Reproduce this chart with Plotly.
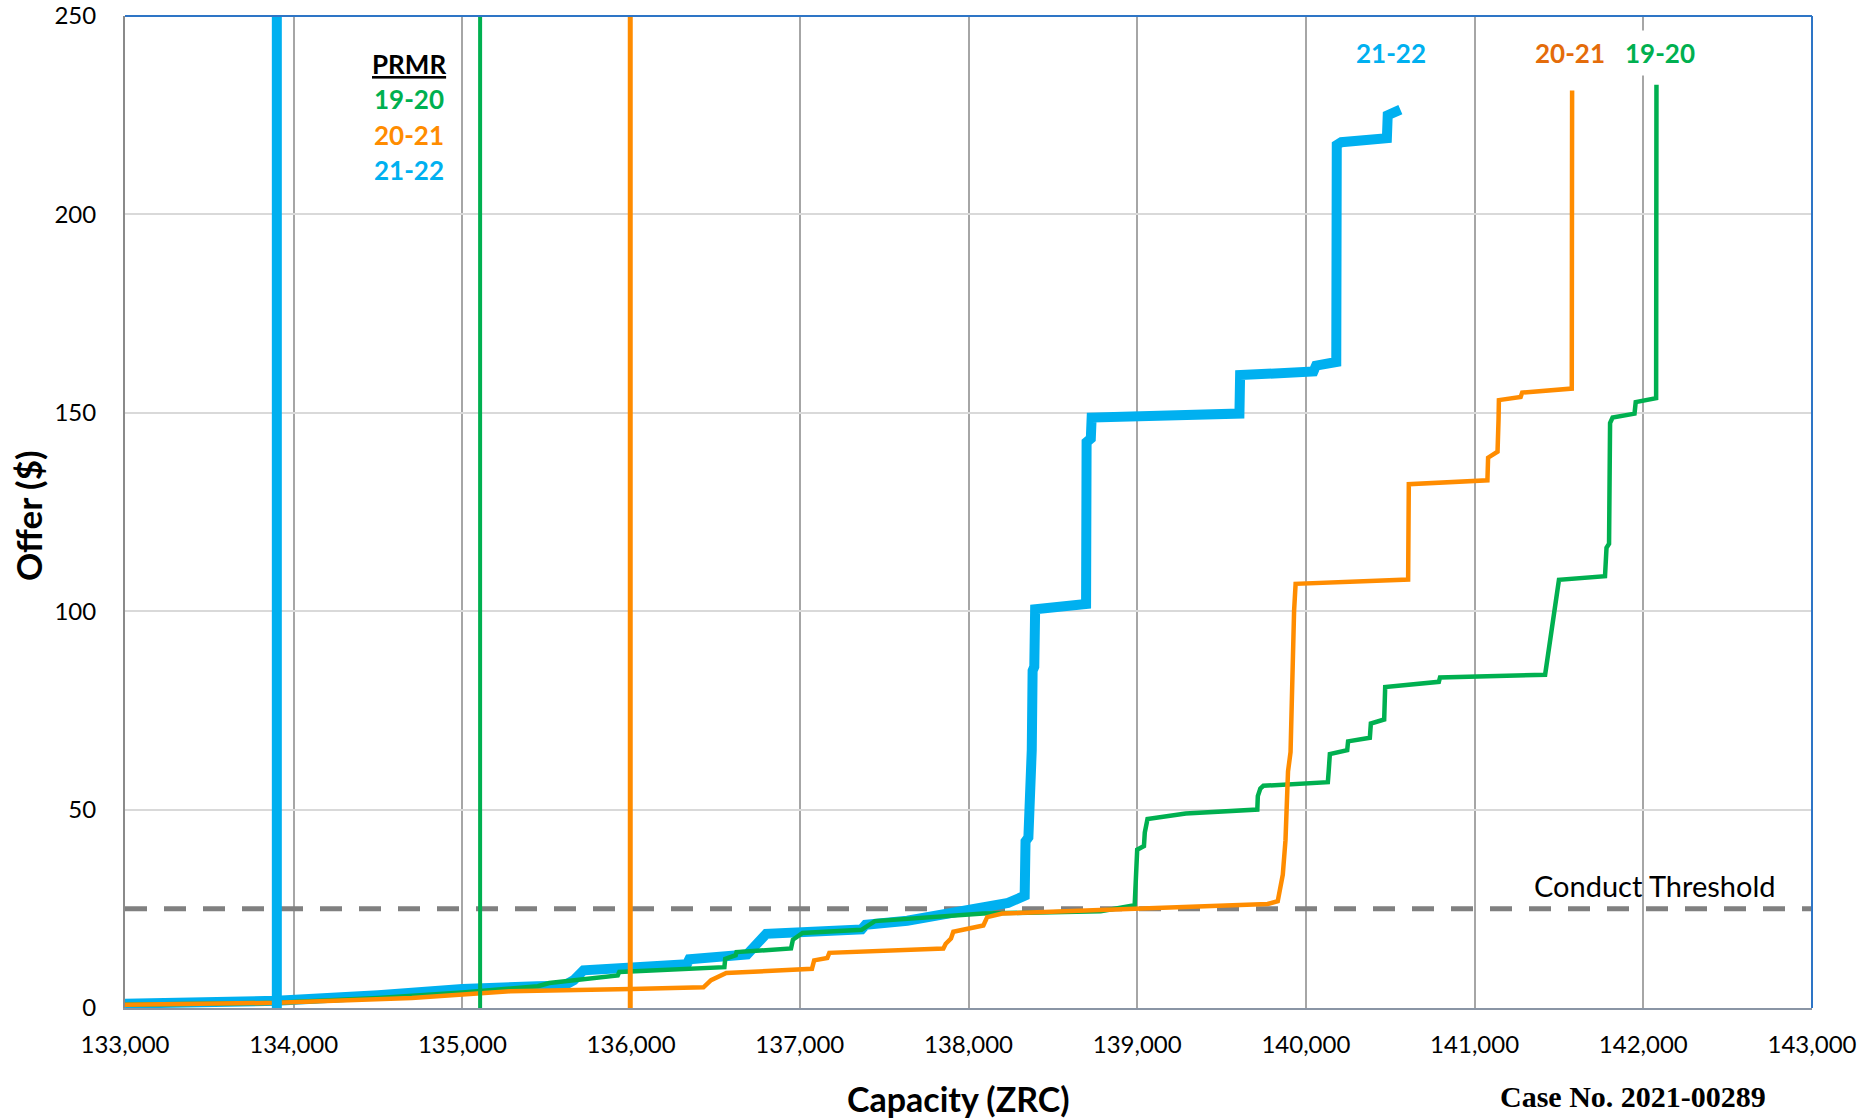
import plotly.graph_objects as go

# ---------------- data ----------------
x_2122 = [133000, 133900, 134500, 135000, 135443, 135600, 135660, 135718, 136330, 136345, 136688, 136734,
          136801, 137366, 137390, 137637, 138043, 138235, 138333, 138338, 138355, 138360, 138375, 138380,
          138390, 138395, 138697, 138700, 138725, 138730, 139606, 139610, 140045, 140060, 140180, 140183,
          140210, 140480, 140485, 140560]
y_2122 = [1.1, 1.8, 3.2, 4.8, 5.5, 5.6, 7.0, 9.5, 11.0, 12.3, 13.5, 16.0,
          18.7, 19.8, 21.0, 22.0, 25.2, 26.5, 28.3, 42.0, 43.0, 64.0, 65.0, 85.0,
          86.0, 100.5, 101.8, 142.6, 143.5, 148.8, 149.8, 159.5, 160.4, 161.9, 162.8, 217.5,
          218.2, 219.2, 225.0, 226.4]

x_1920 = [133000, 133900, 134500, 135000, 135447, 135515, 135921, 135930, 136553, 136558, 136620, 136625,
          136948, 136959, 137016, 137366, 137445, 138088, 138783, 138985, 139000, 139040, 139045, 139061,
          139288, 139712, 139715, 139730, 139748, 140130, 140135, 140142, 140245, 140250, 140379, 140385,
          140464, 140470, 140788, 140795, 141418, 141440, 141470, 141485, 141500, 141773, 141782, 141797,
          141803, 141818, 141948, 141955, 142076, 142078]
y_1920 = [0.8, 1.3, 2.5, 3.9, 5.5, 6.3, 8.2, 9.1, 10.3, 12.4, 13.3, 14.1,
          15.0, 17.2, 18.9, 19.7, 21.9, 23.8, 24.4, 25.9, 39.9, 40.8, 44.2, 47.6,
          49.0, 50.0, 53.4, 55.3, 56.0, 56.9, 59.6, 64.0, 65.0, 67.2, 68.1, 71.7,
          72.7, 80.9, 82.2, 83.3, 84.0, 90.5, 99.2, 104.0, 107.9, 108.8, 116.0, 117.0,
          147.4, 148.8, 149.8, 152.7, 153.7, 232.7]

x_2021 = [133000, 133900, 134700, 135070, 135283, 136000, 136429, 136474, 136564, 137072, 137085, 137163,
          137175, 137851, 137865, 137896, 137910, 138088, 138111, 138200, 139000, 139773, 139833, 139848,
          139863, 139879, 139894, 139909, 139918, 139930, 139939, 140606, 140610, 141076, 141080, 141136,
          141142, 141144, 141273, 141282, 141576, 141578]
y_2021 = [0.8, 1.3, 2.5, 3.4, 4.2, 4.8, 5.2, 7.0, 8.8, 9.9, 12.0, 12.6,
          13.9, 15.0, 16.2, 17.5, 19.2, 20.8, 22.9, 23.8, 25.1, 26.2, 26.9, 30.7,
          33.6, 42.3, 59.6, 64.5, 85.7, 100.1, 106.9, 108.0, 132.0, 133.0, 138.7, 140.2,
          148.4, 153.2, 154.0, 155.1, 156.1, 231.2]

prmr_years = ["19-20", "20-21", "21-22"]
prmr_x = [135105, 135995, 133900]
threshold = 25
x_ticks = list(range(133000, 143001, 1000))
y_ticks = [0, 50, 100, 150, 200, 250]

C_BLUE = "#00B0F0"
C_GREEN = "#00B050"
C_ORANGE = "#FF8C00"
C_ORANGE_LBL = "#E46C0A"

fig = go.Figure()

# threshold
fig.add_trace(go.Scatter(x=[x_ticks[0], x_ticks[-1]], y=[threshold, threshold], mode="lines",
                         line=dict(color="#808080", width=5, dash="22px,17px"), hoverinfo="skip"))
# supply curves
fig.add_trace(go.Scatter(x=x_2122, y=y_2122, mode="lines", line=dict(color=C_BLUE, width=10)))
fig.add_trace(go.Scatter(x=x_1920, y=y_1920, mode="lines", line=dict(color=C_GREEN, width=4.5)))
fig.add_trace(go.Scatter(x=x_2021, y=y_2021, mode="lines", line=dict(color=C_ORANGE, width=4.5)))
# PRMR lines
prmr_cols = [C_GREEN, C_ORANGE, C_BLUE]
prmr_w = [4, 5, 10]
for px, c, w in zip(prmr_x, prmr_cols, prmr_w):
    fig.add_trace(go.Scatter(x=[px, px], y=[y_ticks[0], y_ticks[-1]], mode="lines",
                             line=dict(color=c, width=w)))

FONT = "Lato"
ann = []
# PRMR legend text
ann.append(dict(x=134683, y=237.8, text="<b><u>PRMR</u></b>", showarrow=False,
                font=dict(family=FONT, size=26, color="#000000")))
for i, (yr, c) in enumerate(zip(prmr_years, [C_GREEN, C_ORANGE, C_BLUE])):
    ann.append(dict(x=134683, y=229.0 - i * 8.9, text="<b>" + yr + "</b>", showarrow=False,
                    font=dict(family=FONT, size=26, color=c)))
# curve end labels
ann.append(dict(x=140505, y=240.8, text="<b>21-22</b>", showarrow=False,
                font=dict(family=FONT, size=26, color=C_BLUE)))
ann.append(dict(x=141563, y=240.8, text="<b>20-21</b>", showarrow=False,
                font=dict(family=FONT, size=26, color=C_ORANGE_LBL)))
ann.append(dict(x=142096, y=240.8, text="<b>19-20</b>", showarrow=False, bgcolor="white",
                borderpad=6, font=dict(family=FONT, size=26, color=C_GREEN)))
# threshold label
ann.append(dict(x=142800, y=threshold, xanchor="right", yanchor="bottom", yshift=4,
                text="Conduct Threshold", showarrow=False,
                font=dict(family=FONT, size=29, color="#000000")))
# axis titles
ann.append(dict(xref="paper", yref="paper", x=0.494, y=-0.091, xanchor="center", yanchor="middle",
                text="<b>Capacity (ZRC)</b>",
                showarrow=False, font=dict(family=FONT, size=34, color="#000000")))
ann.append(dict(xref="paper", yref="paper", x=-0.0575, y=0.497, xanchor="center", yanchor="middle",
                text="<b>Offer ($)</b>",
                textangle=-90, showarrow=False, font=dict(family=FONT, size=35, color="#000000")))
ann.append(dict(xref="paper", yref="paper", x=0.894, y=-0.089, xanchor="center", yanchor="middle",
                text="<b>Case No. 2021-00289</b>",
                showarrow=False, font=dict(family="Liberation Serif", size=30, color="#000000")))

shapes = [
    dict(type="line", xref="paper", yref="paper", x0=0, x1=1, y0=1, y1=1,
         line=dict(color="#2E75C6", width=2)),
    dict(type="line", xref="paper", yref="paper", x0=1, x1=1, y0=0, y1=1,
         line=dict(color="#2E75C6", width=2)),
]

fig.update_layout(
    width=1868, height=1119,
    margin=dict(l=125, r=56, t=16, b=111, autoexpand=False),
    paper_bgcolor="white", plot_bgcolor="white",
    showlegend=False,
    annotations=ann, shapes=shapes,
    font=dict(family=FONT, size=24, color="#000000"),
    xaxis=dict(range=[x_ticks[0], x_ticks[-1]], tickvals=x_ticks, tickformat=",",
               showgrid=True, gridcolor="#A6A6A6", gridwidth=1.5, zeroline=False,
               showline=True, linecolor="#8A95A5", linewidth=2, ticks="", automargin=False,
               tickfont=dict(family=FONT, size=24, color="#000000"), ticklabelstandoff=14),
    yaxis=dict(range=[y_ticks[0], y_ticks[-1]], tickvals=y_ticks,
               showgrid=True, gridcolor="#D9D9D9", gridwidth=1.5, zeroline=False,
               showline=True, linecolor="#8A8A8A", linewidth=2, ticks="", automargin=False,
               tickfont=dict(family=FONT, size=24, color="#000000"), ticklabelstandoff=22),
)

fig.write_html("out.html", config={"displayModeBar": False},
               post_script="document.body.style.margin='0';")
